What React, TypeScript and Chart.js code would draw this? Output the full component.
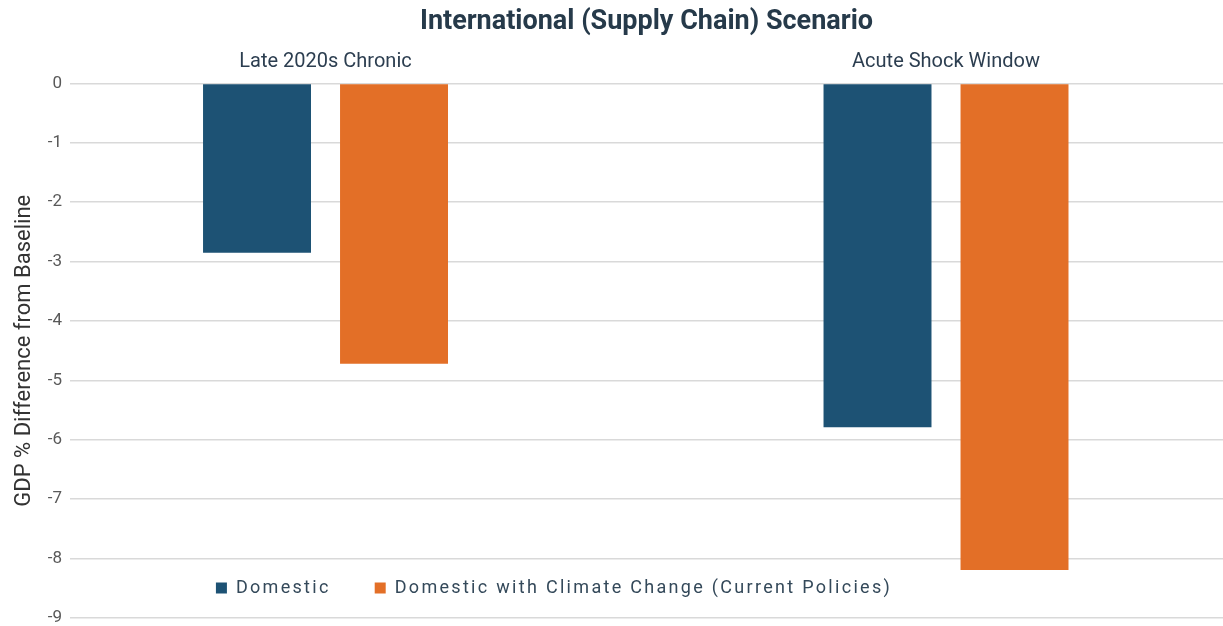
import React, { useEffect, useRef } from "react";
import { Chart, registerables } from "chart.js";

Chart.register(...registerables);

// ---- data ----
const chartTitle = "International (Supply Chain) Scenario";
const categories = ["Late 2020s Chronic", "Acute Shock Window"];
const seriesNames = ["Domestic", "Domestic with Climate Change (Current Policies)"];
const domesticValues = [-2.85, -5.79];
const climateValues = [-4.72, -8.19];
const seriesColors = ["#1d5274", "#e36f27"];
const yAxisTitle = "GDP % Difference from Baseline";
const yMin = -9;
const yMax = 0;
const yStep = 1;

const FONT = "Roboto, 'Noto Sans', sans-serif";
const LEGEND_SPACING = "2.3px";
const LEGEND_FONT = 18;
const LEGEND_PAD = 44;

const legendInside = {
  id: "legendInside",
  beforeUpdate(chart: any) {
    const lg: any = chart.legend;
    if (!lg || lg.__patched) return;
    lg.__patched = true;
    const origFit = lg.fit.bind(lg);
    lg.fit = function () {
      const ctx = this.ctx;
      ctx.save();
      ctx.letterSpacing = LEGEND_SPACING;
      origFit();
      ctx.restore();
      this.__h = this.height;
      this.height = 0;
    };
    const origDraw = lg.draw.bind(lg);
    lg.draw = function () {
      const ctx = this.ctx;
      ctx.save();
      ctx.letterSpacing = LEGEND_SPACING;
      origDraw();
      ctx.restore();
    };
  },
  afterLayout(chart: any) {
    const lg: any = chart.legend;
    if (!lg) return;
    const h = lg.__h || 60;
    const top = chart.chartArea.bottom - 30 - LEGEND_PAD - LEGEND_FONT / 2;
    lg.top = top;
    lg.bottom = top + h;
    lg.left = 0;
    lg.right = 1108;
    lg.width = 1108;
  },
};

export default function App() {
  const ref = useRef<HTMLCanvasElement | null>(null);

  useEffect(() => {
    document.body.style.margin = "0";
    const canvas = ref.current;
    if (!canvas) return;
    const chart = new Chart(canvas, {
      type: "bar",
      data: {
        datasets: [
          {
            label: seriesNames[0],
            data: categories.map((_, i) => ({ x: i, y: domesticValues[i] })),
            backgroundColor: seriesColors[0],
            borderWidth: 0,
          },
          {
            label: seriesNames[1],
            data: categories.map((_, i) => ({ x: i, y: climateValues[i] })),
            backgroundColor: seriesColors[1],
            borderWidth: 0,
          },
        ],
      },
      options: {
        responsive: false,
        animation: false,
        layout: { padding: { top: 0, right: 0, bottom: 8, left: 0 } },
        datasets: {
          bar: { categoryPercentage: 0.4416, barPercentage: 0.788 },
        },
        scales: {
          x: {
            type: "linear",
            position: "top",
            offset: false,
            min: -0.4118,
            max: 1.4464,
            afterBuildTicks: (scale: any) => {
              scale.ticks = categories.map((_, i) => ({ value: i }));
            },
            ticks: {
              callback: (v: any) => categories[v as number] ?? "",
              font: { family: FONT, size: 20 },
              color: "#2c3e50",
              padding: 9,
              maxRotation: 0,
              autoSkip: false,
            },
            grid: { display: false, drawTicks: false, offset: false },
            border: { display: false },
          },
          y: {
            type: "linear",
            min: yMin,
            max: yMax,
            afterFit: (scale: any) => {
              scale.width = 70;
              scale.paddingTop = 0;
              scale.paddingBottom = 0;
            },
            ticks: {
              stepSize: yStep,
              font: { family: FONT, size: 17 },
              color: "#595959",
              padding: 8,
            },
            grid: { color: "#d9d9d9", lineWidth: 1.5, drawTicks: false },
            border: { display: false },
            title: {
              display: true,
              text: yAxisTitle,
              font: { family: FONT, size: 22 },
              color: "#333333",
              padding: { top: 11, bottom: 0 },
            },
          },
        },
        plugins: {
          title: {
            display: true,
            fullSize: false,
            text: chartTitle,
            font: { family: FONT, size: 27, weight: "bold" },
            color: "#263a4a",
            padding: { top: 6, bottom: 3 },
          },
          legend: {
            display: true,
            position: "bottom",
            labels: {
              boxWidth: 11,
              boxHeight: 11,
              padding: LEGEND_PAD,
              color: "#34495a",
              font: { family: FONT, size: LEGEND_FONT },
            },
          },
          tooltip: { enabled: false },
        },
      },
      plugins: [legendInside as any],
    } as any);
    return () => chart.destroy();
  }, []);

  return (
    <div style={{ width: 1223, height: 626 }}>
      <canvas ref={ref} width={1223} height={626} />
    </div>
  );
}
